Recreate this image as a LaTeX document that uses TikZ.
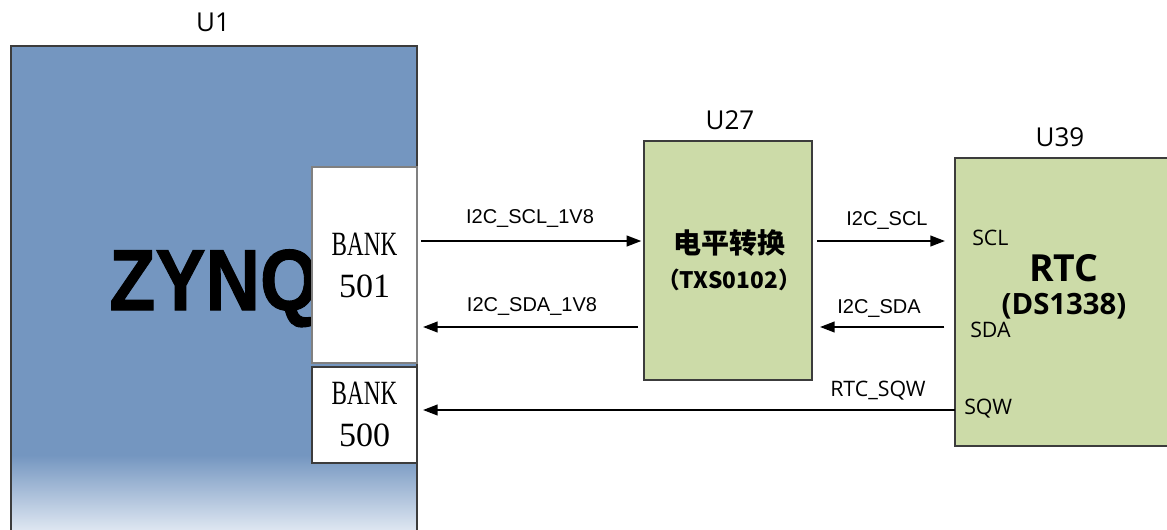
\documentclass[tikz,border=0pt]{standalone}
\usepackage{fontspec}
\usetikzlibrary{arrows.meta}
\newfontfamily\notosans{Open Sans}
\newfontfamily\libsans{Liberation Sans}
\newfontfamily\zfont{Liberation Sans}[UprightFont=*-Bold,FakeBold=1.2]
\newfontfamily\libserif{Liberation Serif}
\newfontfamily\cjk{Noto Sans CJK SC}
\definecolor{zblue}{RGB}{116,150,192}
\definecolor{zbot}{RGB}{236,241,248}
\definecolor{lgreen}{RGB}{204,219,168}
\definecolor{edge}{RGB}{60,60,60}
\begin{document}
\begin{tikzpicture}[x=0.75pt,y=-0.75pt,
  box/.style={rectangle,inner sep=0pt,outer sep=0pt},
  chip/.style={box,draw=edge,line width=1.1pt,fill=lgreen},
  bankbox/.style={box,fill=white,minimum width=78.75pt},
  arr/.style={line width=1.5pt,-{Triangle[length=11pt,width=8pt]}},
  sig/.style={inner sep=0pt,font=\libsans\fontsize{15}{18}\selectfont},
  pin/.style={inner sep=0pt,anchor=west,font=\notosans\fontsize{16}{19}\selectfont},
  ulabel/.style={inner sep=0pt,font=\notosans\fontsize{19.5}{22}\selectfont},
  banktxt/.style={inner sep=0pt,align=center,font=\libserif\fontsize{25.5}{31.5}\selectfont}]
\useasboundingbox (0,0) rectangle (1167,529);
\clip (0,0) rectangle (1167,529);
% U1
\node[box,fill=zblue,minimum width=304.5pt,minimum height=370.5pt] (u1) at (214,293) {};
\shade[top color=zblue,bottom color=zbot] (11,455) rectangle (417,540);
\draw[edge,line width=0.8pt] (11,540) -- (11,46) -- (417,46) -- (417,540);
\node[ulabel] (u1l) at (213,22) {U1};
\node[inner sep=0pt,anchor=base west,font=\zfont\bfseries\fontsize{65}{70}\selectfont] (zynq) at (109,310) {\scalebox{0.87}[1]{ZYNQ}};
% banks
\node[bankbox,draw=gray,line width=1.1pt,minimum height=147pt] (b501) at (364.5,265) {};
\node[bankbox,draw=edge,line width=0.8pt,minimum height=72pt] (b500) at (364.5,415) {};
\node[banktxt] (b501t) at (364.5,265) {\scalebox{0.68}[1]{BANK}\\501};
\node[banktxt] (b500t) at (364.5,414) {\scalebox{0.68}[1]{BANK}\\500};
% U27
\node[chip,minimum width=126pt,minimum height=179.25pt] (u27) at (728,260.5) {};
\node[ulabel] (u27l) at (730,120) {U27};
\node[inner sep=0pt,font=\cjk\bfseries\fontsize{21}{24}\selectfont] (lvl) at (729,243) {电平转换};
\node[inner sep=0pt,font=\cjk\bfseries\fontsize{17}{20}\selectfont] (txs) at (729,280) {（TXS0102）};
% U39
\node[chip,minimum width=165pt,minimum height=216pt] (u39) at (1065,302) {};
\node[ulabel] (u39l) at (1060,137) {U39};
\node[inner sep=0pt,font=\notosans\bfseries\fontsize{28}{32}\selectfont] (rtc) at (1064,268) {RTC};
\node[inner sep=0pt,font=\notosans\bfseries\fontsize{22}{26}\selectfont] (ds) at (1064,306) {(DS1338)};
\node[pin] (scl) at (972,238) {SCL};
\node[pin] (sda) at (970,330) {SDA};
\node[pin] (sqw) at (964,409) {SQW};
\coordinate (p1) at (955,241);
\coordinate (p2) at (955,327);
\coordinate (p3) at (955,410);
% connectors
\draw[arr,shorten <=3pt,shorten >=2pt] (b501.east |- p1) -- (u27.west |- p1);
\draw[arr,shorten <=4.5pt,shorten >=4.5pt] (u27.west |- p2) -- (b501.east |- p2);
\draw[arr,shorten <=4pt,shorten >=7.5pt] (u27.east |- p1) -- (p1);
\draw[arr,shorten <=8pt,shorten >=6pt] (p2) -- (u27.east |- p2);
\draw[arr,shorten >=4.5pt] (p3) -- (b500.east |- p3);
% signal labels
\node[sig] (l1) at (530,218) {I2C\_SCL\_1V8};
\node[sig] (l2) at (532,306) {I2C\_SDA\_1V8};
\node[sig] (l3) at (887,220) {I2C\_SCL};
\node[sig] (l4) at (879,308) {I2C\_SDA};
\node[inner sep=0pt,font=\notosans\fontsize{16}{19}\selectfont] (l5) at (878,391) {RTC\_SQW};
\end{tikzpicture}
\end{document}
